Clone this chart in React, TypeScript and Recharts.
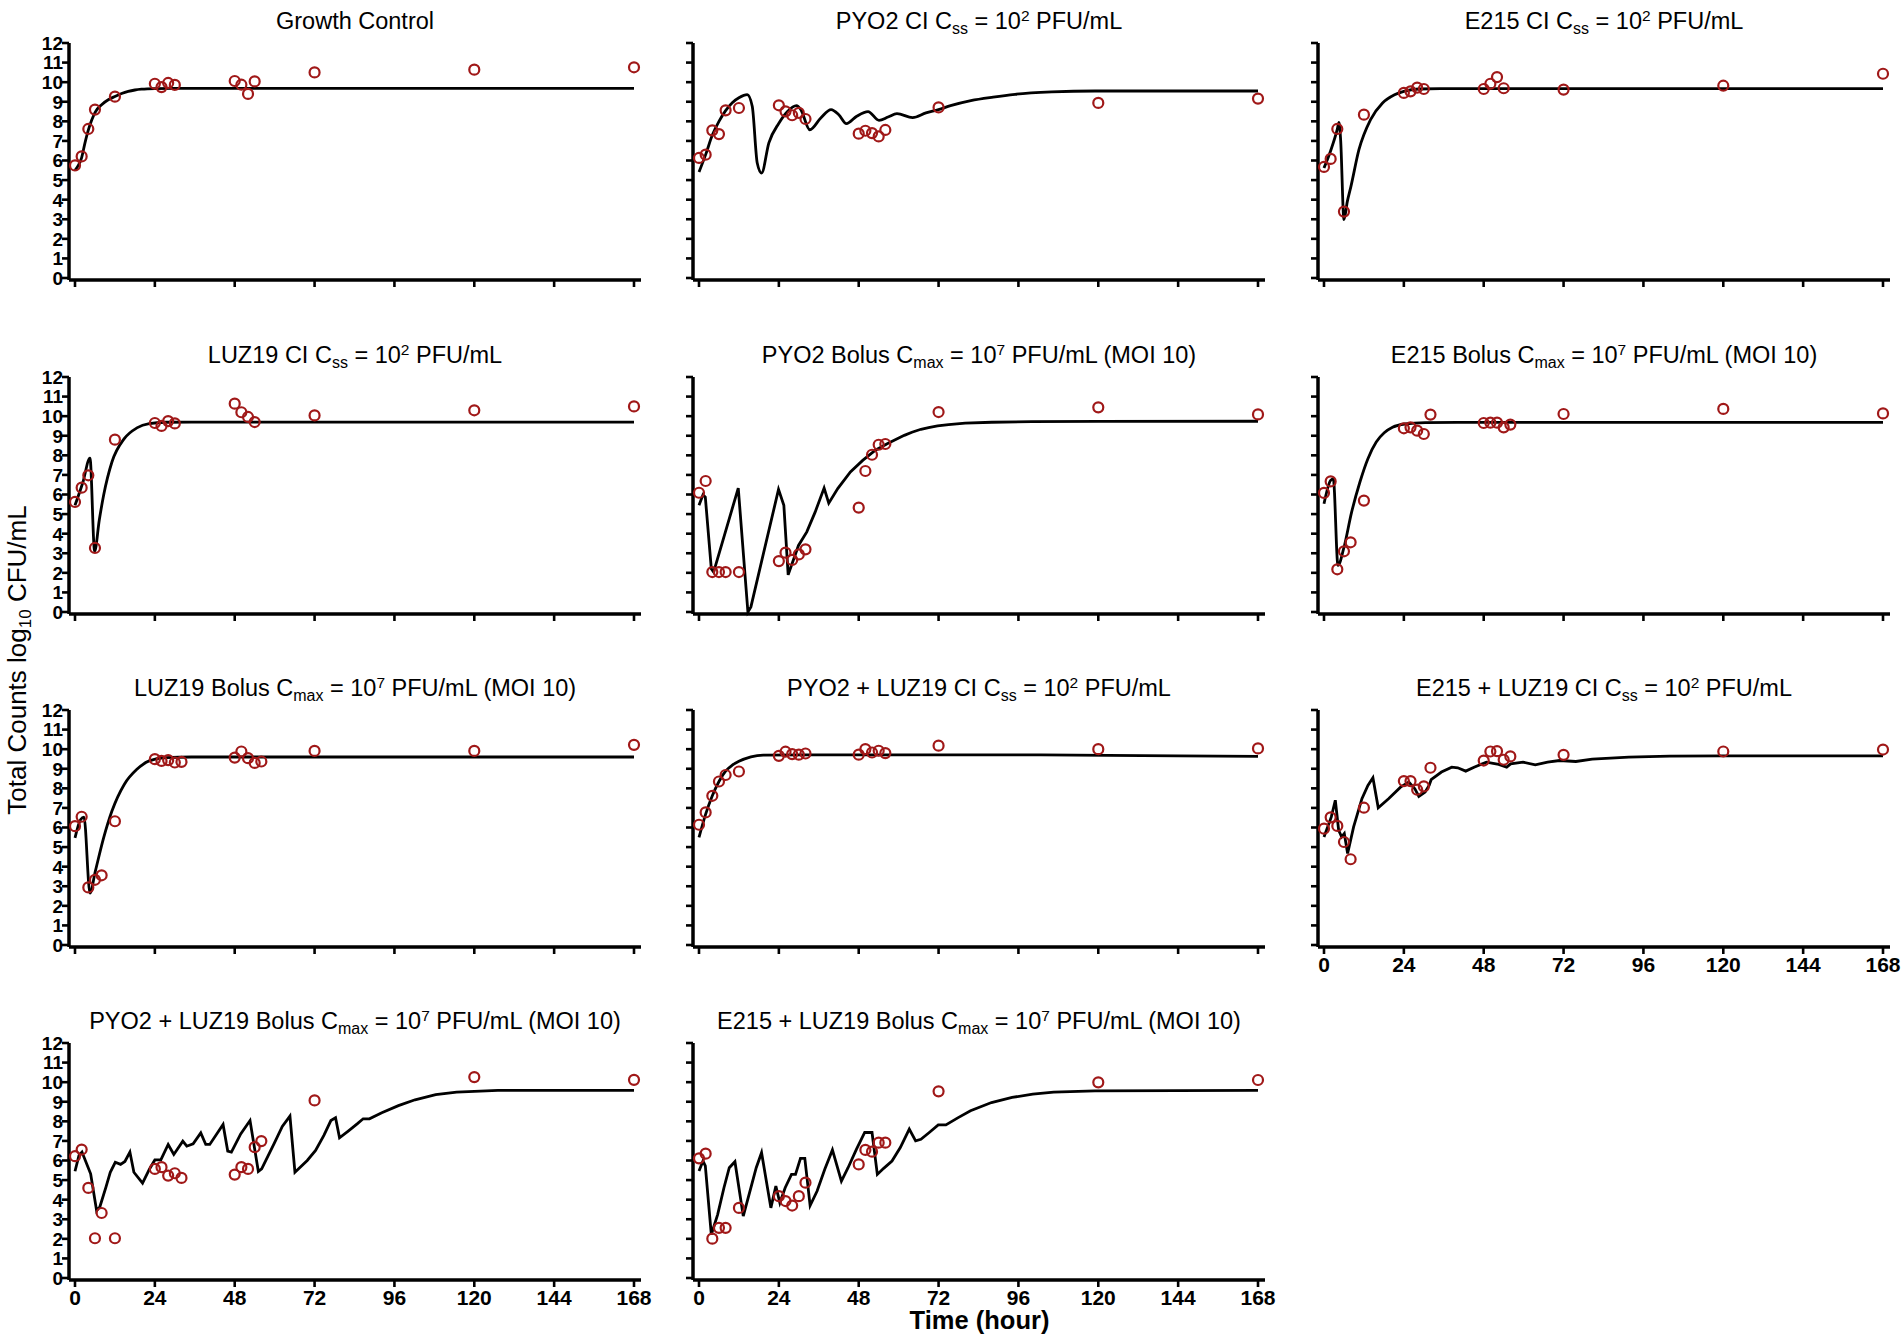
import React from 'react';
import { ComposedChart, Line, Scatter, XAxis, YAxis } from 'recharts';

// ---------- tick labels ----------
const X_TICKS = [0, 24, 48, 72, 96, 120, 144, 168];
const Y_TICKS = [0, 1, 2, 3, 4, 5, 6, 7, 8, 9, 10, 11, 12];

// ---------- panel titles: [before sub, sub, between, sup, after] ----------
const TITLES: string[][] = [
  ['Growth Control', '', '', '', ''],
  ['PYO2 CI C', 'ss', ' = 10', '2', ' PFU/mL'],
  ['E215 CI C', 'ss', ' = 10', '2', ' PFU/mL'],
  ['LUZ19 CI C', 'ss', ' = 10', '2', ' PFU/mL'],
  ['PYO2 Bolus C', 'max', ' = 10', '7', ' PFU/mL (MOI 10)'],
  ['E215 Bolus C', 'max', ' = 10', '7', ' PFU/mL (MOI 10)'],
  ['LUZ19 Bolus C', 'max', ' = 10', '7', ' PFU/mL (MOI 10)'],
  ['PYO2 + LUZ19 CI C', 'ss', ' = 10', '2', ' PFU/mL'],
  ['E215 + LUZ19 CI C', 'ss', ' = 10', '2', ' PFU/mL'],
  ['PYO2 + LUZ19 Bolus C', 'max', ' = 10', '7', ' PFU/mL (MOI 10)'],
  ['E215 + LUZ19 Bolus C', 'max', ' = 10', '7', ' PFU/mL (MOI 10)'],
];

// ---------- data: [time (h), log10 CFU/mL] ----------
const gcObs = [[0,5.75],[2,6.21],[4,7.61],[6,8.6],[12,9.26],[24,9.92],[26,9.75],[28,9.96],[30,9.86],[48,10.06],[50,9.87],[52,9.4],[54,10.04],[72,10.5],[120,10.64],[168,10.76]];
const gcFit = [[0,5.5],[1,5.75],[2,6.15],[3,6.9],[4,7.55],[5,8.05],[6,8.45],[8,8.85],[10,9.1],[12,9.27],[14,9.42],[16,9.53],[18,9.6],[20,9.64],[24,9.67],[30,9.68],[168,9.68]];

const pyo2CiObs = [[0,6.13],[2,6.3],[4,7.54],[6,7.35],[8,8.56],[12,8.68],[24,8.82],[26,8.51],[28,8.31],[30,8.43],[32,8.12],[48,7.37],[50,7.52],[52,7.4],[54,7.23],[56,7.56],[72,8.71],[120,8.94],[168,9.16]];
const pyo2CiFit = [[0,5.41],[2,6.3],[4,7.3],[6,8.0],[8,8.55],[10,8.95],[12,9.2],[14.5,9.36],[16,8.77],[17.5,5.87],[18.8,5.36],[21,6.9],[24,7.9],[26.6,8.5],[29.3,8.8],[30.6,8.6],[33.3,7.57],[36.6,8.17],[39.7,8.6],[42,8.34],[44.3,7.88],[47.4,8.26],[50.8,8.5],[54.1,8.05],[56.8,8.22],[59.5,8.39],[64.2,8.19],[68.2,8.43],[72,8.6],[75.6,8.8],[81.7,9.06],[88.4,9.24],[95,9.38],[106,9.5],[119,9.55],[168,9.55]];

const e215CiObs = [[0,5.67],[2,6.08],[4,7.61],[6,3.39],[12,8.34],[24,9.45],[26,9.53],[28,9.72],[30,9.65],[48,9.65],[50,9.92],[52,10.26],[54,9.69],[72,9.62],[120,9.82],[168,10.43]];
const e215CiFit = [[0,5.62],[2,6.5],[4,7.6],[4.5,7.95],[5,7.06],[6,2.98],[7,3.9],[8.1,4.68],[10.5,6.55],[14,8.09],[17.6,8.94],[21.2,9.36],[24,9.53],[28.4,9.65],[35,9.67],[168,9.67]];

const luz19CiObs = [[0,5.62],[2,6.35],[4,6.98],[6,3.27],[12,8.8],[24,9.65],[26,9.5],[28,9.75],[30,9.63],[48,10.64],[50,10.2],[52,9.96],[54,9.7],[72,10.04],[120,10.3],[168,10.5]];
const luz19CiFit = [[0,5.45],[2.4,6.64],[4.5,7.86],[5.9,3.1],[7.3,4.7],[8.6,5.96],[11.1,7.66],[14.8,8.85],[18.6,9.4],[22.3,9.62],[27.3,9.69],[35,9.7],[168,9.7]];

const pyo2BolObs = [[0,6.09],[2,6.69],[4,2.04],[6,2.04],[8,2.04],[12,2.04],[24,2.6],[26,3.03],[28,2.66],[30,2.94],[32,3.2],[48,5.33],[50,7.2],[52,8.03],[54,8.54],[56,8.58],[72,10.21],[120,10.45],[168,10.09]];
const pyo2BolFit = [[0,5.45],[1.2,5.99],[1.9,5.87],[3.7,2.21],[4.4,2.04],[11.8,6.33],[14.7,0],[15.6,0.26],[23.9,6.26],[25.5,5.45],[26.8,1.9],[29.9,3.4],[32.4,4.09],[34.9,5.1],[37.6,6.33],[39,5.56],[41.7,6.3],[45.5,7.15],[49.2,7.74],[53,8.26],[56.7,8.6],[61.7,9.02],[64,9.18],[66.7,9.33],[69,9.42],[71.7,9.5],[75,9.57],[80,9.64],[88,9.69],[100,9.72],[120,9.73],[168,9.74]];

const e215BolObs = [[0,6.08],[2,6.67],[4,2.18],[6,3.1],[8,3.56],[12,5.69],[24,9.38],[26,9.43],[28,9.26],[30,9.09],[32,10.08],[48,9.65],[50,9.67],[52,9.67],[54,9.43],[56,9.57],[72,10.11],[120,10.37],[168,10.14]];
const e215BolFit = [[0,5.53],[2,6.72],[2.8,6.8],[4.2,2.38],[5.9,3.23],[8.3,5.1],[10.8,6.64],[13.2,7.83],[15.7,8.68],[18.1,9.15],[20.6,9.43],[24.3,9.6],[30.4,9.67],[40,9.68],[168,9.68]];

const luz19BolObs = [[0,6.07],[2,6.55],[4,2.94],[6,3.33],[8,3.56],[12,6.32],[24,9.49],[26,9.4],[28,9.44],[30,9.32],[32,9.35],[48,9.57],[50,9.88],[52,9.54],[54,9.3],[56,9.37],[72,9.91],[120,9.91],[168,10.22]];
const luz19BolFit = [[0,5.47],[1.7,6.41],[2.7,6.53],[4.5,2.65],[6.1,3.76],[8.6,5.47],[11.1,6.84],[14.8,8.2],[18.6,8.97],[22.3,9.4],[27.3,9.57],[35,9.6],[168,9.6]];

const pyo2Luz19CiObs = [[0,6.14],[2,6.77],[4,7.62],[6,8.35],[8,8.68],[12,8.86],[24,9.66],[26,9.87],[28,9.75],[30,9.72],[32,9.78],[48,9.72],[50,10.0],[52,9.83],[54,9.92],[56,9.8],[72,10.18],[120,10.0],[168,10.04]];
const pyo2Luz19CiFit = [[0,5.49],[2,6.68],[4,7.62],[6,8.35],[8,8.88],[10,9.18],[12,9.38],[15.6,9.61],[19.3,9.7],[32,9.71],[100,9.71],[144,9.66],[168,9.63]];

const e215Luz19CiObs = [[0,5.94],[2,6.52],[4,6.08],[6,5.26],[8,4.38],[12,7.01],[24,8.37],[26,8.37],[28,7.93],[30,8.1],[32,9.05],[48,9.42],[50,9.88],[52,9.9],[54,9.46],[56,9.63],[72,9.71],[120,9.88],[168,9.98]];
const e215Luz19CiFit = [[0,5.52],[2.2,6.54],[3.4,7.39],[4.4,5.86],[5.3,5.52],[6.1,5.69],[7.1,4.67],[8.9,6.03],[11.4,7.47],[13.2,8.15],[14.7,8.54],[16.3,7.01],[19.4,7.47],[23,8.06],[25.5,8.32],[27.3,7.98],[28.5,7.59],[30.4,7.81],[31.6,8.15],[32.2,8.44],[35.3,8.83],[38.4,9.08],[40.2,9.05],[42.6,8.88],[45.1,9.08],[48.8,9.34],[52.5,9.22],[54.9,9.08],[56.1,9.25],[59.8,9.34],[63.5,9.2],[67.2,9.34],[70.8,9.42],[75.7,9.37],[80.6,9.49],[91.6,9.59],[103.9,9.64],[120,9.66],[168,9.66]];

const pyo2Luz19BolObs = [[0,6.22],[2,6.56],[4,4.6],[6,2.03],[8,3.32],[12,2.03],[24,5.57],[26,5.66],[28,5.23],[30,5.35],[32,5.11],[48,5.28],[50,5.66],[52,5.57],[54,6.68],[56,6.99],[72,9.07],[120,10.26],[168,10.12]];
const pyo2Luz19BolFit = [[0,5.45],[1.2,6.26],[2.1,6.43],[4.7,5.32],[6.5,3.44],[7.5,3.65],[9.3,4.64],[10.6,5.4],[12.1,5.91],[13.7,5.8],[15,5.95],[16.5,6.43],[17.7,5.4],[20.3,4.84],[22.4,5.57],[24,6.03],[25.8,6.03],[28,6.82],[29.7,6.31],[32.4,6.99],[33.6,6.73],[35.5,6.85],[37.8,7.41],[39.3,6.82],[40.5,6.82],[44.5,7.84],[45.9,6.48],[47,6.43],[49.8,7.36],[52.6,8.04],[55.1,5.44],[56.1,5.57],[59.8,6.85],[62.3,7.74],[64.6,8.27],[66.1,5.4],[69.8,6.0],[72.3,6.51],[74.8,7.28],[76.9,8.04],[78.3,8.18],[79.5,7.16],[82.3,7.53],[84.8,7.87],[86.6,8.13],[88.5,8.13],[92.2,8.44],[97.2,8.8],[102.2,9.1],[108.4,9.36],[114.7,9.49],[127.1,9.58],[168,9.58]];

const e215Luz19BolObs = [[0,6.11],[2,6.35],[4,2.01],[6,2.56],[8,2.56],[12,3.58],[24,4.18],[26,3.93],[28,3.7],[30,4.18],[32,4.87],[48,5.8],[50,6.54],[52,6.45],[54,6.91],[56,6.91],[72,9.53],[120,9.99],[168,10.11]];
const e215Luz19BolFit = [[0,5.46],[1.2,5.97],[1.9,5.72],[3.7,2.22],[5.6,3.24],[7.5,4.61],[9.1,5.63],[10.8,5.94],[13.3,3.16],[15.6,4.61],[17.2,5.63],[18.8,6.4],[21.6,3.58],[23.1,4.69],[24.3,3.84],[25.9,4.61],[27.8,5.29],[29,5.29],[30.5,6.11],[31.8,6.11],[33.4,3.7],[35.5,4.44],[37.8,5.55],[40.1,6.54],[42.8,4.95],[44.8,5.63],[47.3,6.57],[49.8,7.43],[52,7.43],[53.6,5.29],[55.5,5.6],[58,5.97],[60.5,6.66],[63.2,7.6],[65.1,7.0],[66.7,7.08],[69.2,7.43],[71.9,7.82],[74.2,7.82],[77.9,8.19],[81.6,8.54],[87.9,8.96],[94.1,9.22],[100.3,9.39],[106.6,9.49],[119,9.56],[168,9.58]];

const OBS = [gcObs, pyo2CiObs, e215CiObs, luz19CiObs, pyo2BolObs, e215BolObs, luz19BolObs, pyo2Luz19CiObs, e215Luz19CiObs, pyo2Luz19BolObs, e215Luz19BolObs];
const FITS = [gcFit, pyo2CiFit, e215CiFit, luz19CiFit, pyo2BolFit, e215BolFit, luz19BolFit, pyo2Luz19CiFit, e215Luz19CiFit, pyo2Luz19BolFit, e215Luz19BolFit];
const CURVES = ['monotone', 'monotone', 'monotone', 'monotone', 'linear', 'monotone', 'monotone', 'monotone', 'linear', 'linear', 'linear'];

// ---------- layout / style ----------
const FONT = '"Liberation Sans", Arial, Helvetica, sans-serif';
const RED = '#a01818';
const COL_LEFT = [69, 693, 1318];
const ROW_TOP = [43, 376.5, 709.5, 1042.5];
const PLOT_W = 572;
const PLOT_H = 237;
const Y_AXIS_W = 50;
const X_AXIS_H = 40;
const M_TOP = 16;
const M_RIGHT = 12;
const TICK_LEN = 6;
const AXIS_SW = 3.5;

const renderCircle = (props: any) => {
  const { cx, cy } = props;
  if (cx == null || cy == null) return <g />;
  return <circle cx={cx} cy={cy} r={5} fill="none" stroke={RED} strokeWidth={2.2} />;
};

const makeXTick = (show: boolean) => (props: any) => {
  const { x, payload } = props;
  const yAxisLine = M_TOP + PLOT_H;
  return (
    <g>
      <line x1={x} x2={x} y1={yAxisLine} y2={yAxisLine + TICK_LEN + 1} stroke="#000" strokeWidth={2.6} />
      {show ? (
        <text x={x} y={yAxisLine + TICK_LEN + 4} dy="0.72em" textAnchor="middle" fill="#000" fontSize={21} fontWeight={700} fontFamily={FONT}>
          {payload.value}
        </text>
      ) : null}
    </g>
  );
};

const makeYTick = (show: boolean) => (props: any) => {
  const { y, payload } = props;
  const xAxisLine = Y_AXIS_W;
  return (
    <g>
      <line x1={xAxisLine - TICK_LEN - 1} x2={xAxisLine} y1={y} y2={y} stroke="#000" strokeWidth={2.6} />
      {show ? (
        <text x={xAxisLine - TICK_LEN} y={y} dy="0.36em" textAnchor="end" fill="#000" fontSize={19} fontWeight={700} fontFamily={FONT}>
          {payload.value}
        </text>
      ) : null}
    </g>
  );
};

function Panel({ idx }: { idx: number }) {
  const r = Math.floor(idx / 3);
  const c = idx % 3;
  const showX = idx >= 8;
  const showY = c === 0;
  const lineData = FITS[idx].map(([t, y]) => ({ t, y }));
  const obsData = OBS[idx].map(([t, y]) => ({ t, y }));
  return (
    <div style={{ position: 'absolute', left: COL_LEFT[c] - Y_AXIS_W, top: ROW_TOP[r] - M_TOP }}>
      <ComposedChart
        width={Y_AXIS_W + PLOT_W + M_RIGHT}
        height={M_TOP + PLOT_H + X_AXIS_H}
        margin={{ top: M_TOP, right: M_RIGHT, bottom: 0, left: 0 }}
      >
        <XAxis
          type="number"
          dataKey="t"
          domain={[0, 168]}
          ticks={X_TICKS}
          interval={0}
          padding={{ left: 6, right: 7 }}
          height={X_AXIS_H}
          axisLine={{ stroke: '#000', strokeWidth: AXIS_SW }}
          tickLine={false}
          tick={makeXTick(showX)}
        />
        <YAxis
          type="number"
          dataKey="y"
          domain={[0, 12]}
          ticks={Y_TICKS}
          interval={0}
          width={Y_AXIS_W}
          padding={{ top: 0, bottom: 2 }}
          axisLine={{ stroke: '#000', strokeWidth: AXIS_SW }}
          tickLine={false}
          tick={makeYTick(showY)}
        />
        <Line
          data={lineData}
          dataKey="y"
          type={CURVES[idx] as any}
          stroke="#000"
          strokeWidth={2.8}
          dot={false}
          activeDot={false}
          isAnimationActive={false}
        />
        <Scatter data={obsData} dataKey="y" shape={renderCircle} isAnimationActive={false} />
      </ComposedChart>
    </div>
  );
}

function Title({ idx }: { idx: number }) {
  const r = Math.floor(idx / 3);
  const c = idx % 3;
  const [pre, sub, mid, sup, post] = TITLES[idx];
  const cx = COL_LEFT[c] + PLOT_W / 2;
  const y = ROW_TOP[r] - 14;
  return (
    <text x={cx} y={y} textAnchor="middle" fontSize={23.5} fontFamily={FONT} fill="#000">
      {pre}
      {sub ? (
        <>
          <tspan fontSize={16} dy={5}>{sub}</tspan>
          <tspan dy={-5}>{mid}</tspan>
          <tspan fontSize={15.5} dy={-8}>{sup}</tspan>
          <tspan dy={8}>{post}</tspan>
        </>
      ) : null}
    </text>
  );
}

export default function App() {
  const idxs = OBS.map((_, i) => i);
  return (
    <div style={{ position: 'absolute', left: 0, top: 0, width: 1902, height: 1340, background: '#fff', overflow: 'hidden' }}>
      {idxs.map((i) => (
        <Panel key={i} idx={i} />
      ))}
      <svg width={1902} height={1340} style={{ position: 'absolute', left: 0, top: 0, pointerEvents: 'none' }}>
        {idxs.map((i) => (
          <Title key={i} idx={i} />
        ))}
        <text
          transform="translate(26,660) rotate(-90)"
          x={0}
          y={0}
          textAnchor="middle"
          fontSize={26}
          fontFamily={FONT}
          fill="#000"
        >
          Total Counts log<tspan fontSize={17} dy={5}>10</tspan>
          <tspan dy={-5}> CFU/mL</tspan>
        </text>
        <text x={979.5} y={1329} textAnchor="middle" fontSize={25.5} fontWeight={700} fontFamily={FONT} fill="#000">
          Time (hour)
        </text>
      </svg>
    </div>
  );
}
